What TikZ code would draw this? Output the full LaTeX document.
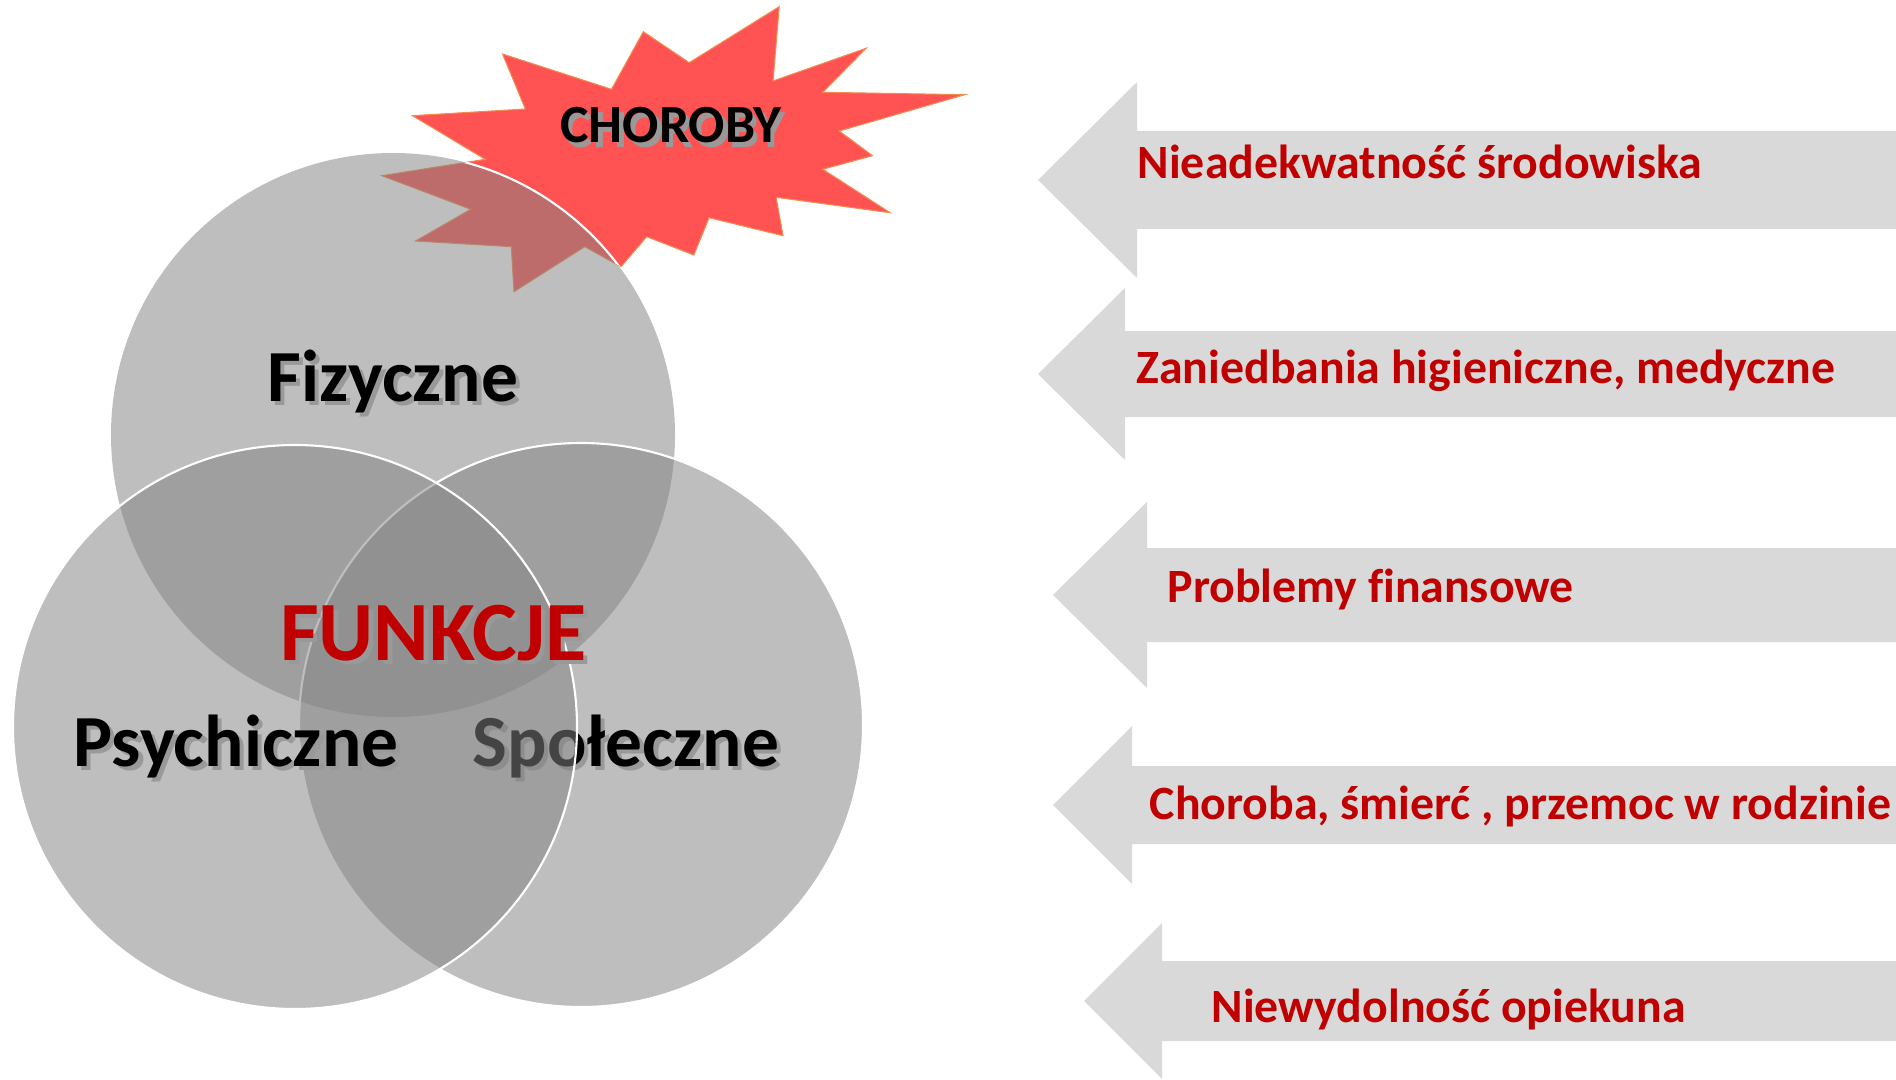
\documentclass[tikz,border=0pt]{standalone}
\usepackage{fontspec}
\setmainfont{Carlito}[Ligatures = NoCommon]

\definecolor{starred}{RGB}{255,82,82}
\definecolor{staredge}{RGB}{240,140,80}
\definecolor{venngray}{RGB}{131,131,131}
\definecolor{arrowgray}{RGB}{217,217,217}
\definecolor{causered}{RGB}{192,0,0}

\newcommand{\shadowed}[1]{\makebox[0pt][l]{\hspace{1.2pt}\raisebox{-1.2pt}{\textcolor{black!40}{#1}}}#1}

\begin{document}
\begin{tikzpicture}[x = 0.1mm, y = -0.1mm,
	venn/.style = {fill = venngray, fill opacity = 0.52},
	vennedge/.style = {draw = white, line width = 0.6pt},
	vennlabel/.style = {font = \fontsize{20.9}{24}\selectfont\bfseries, anchor = base, inner sep = 0},
	cause/.style = {font = \fontsize{13.6}{16}\selectfont\bfseries, text = causered, anchor = base west, inner sep = 0}]

	% Definitions
	
	\def\starpath{(412.5, 115.7) -- (485.2, 159.3) -- (381.9, 175.7) -- (470.7, 209.3) -- (415.6, 241) -- (511.3, 246.7) -- (514, 291.7) -- (584.7, 246.7) -- (621, 266.7) -- (646.7, 236.7) -- (693.8, 255) -- (709.1, 217.7) -- (783, 235.7) -- (776.1, 197.3) -- (890.1, 212.7) -- (822.8, 169.3) -- (872.5, 155.7) -- (839.2, 131) -- (964.8, 94.7) -- (822.8, 92.3) -- (866, 48.3) -- (773, 81) -- (779.2, 6.7) -- (689.2, 62.7) -- (643.3, 31.7) -- (611.5, 89.3) -- (502.5, 54) -- (525.4, 109) -- cycle}
	
	\useasboundingbox (0, 0) rectangle (1896, 1079);
	
	% Star
	
	\draw [fill = starred, draw = staredge, line width = 0.3pt] \starpath;
	
	% Top circle + white rim over the star
	
	\path [venn] (393, 435) circle (282);
	\begin{scope}
		\clip \starpath;
		\draw [vennedge] (393, 435) circle (282);
	\end{scope}
	\node [vennlabel] (fizyczne) at (393, 401) {\shadowed{Fizyczne}};
	
	% Right circle
	
	\path [venn, vennedge] (581, 725) circle (282);
	\node [vennlabel] (spoleczne) at (626, 766) {\shadowed{Społeczne}};
	
	% Left circle
	
	\path [venn, vennedge] (295, 727) circle (282);
	\node [vennlabel] (psychiczne) at (236, 766) {\shadowed{Psychiczne}};
	
	% Labels in the middle and on the star
	
	\node [vennlabel, font = \fontsize{24}{28}\selectfont\bfseries, text = causered] (funkcje) at (433.5, 660) {\shadowed{FUNKCJE}};
	\node [vennlabel, font = \fontsize{15.3}{18}\selectfont\bfseries] (choroby) at (671, 143) {\shadowed{CHOROBY}};
	
	% Arrows
	
	\foreach \tipx/\midy/\headx/\headh/\shafth in {1038/180/1137/98/49, 1038/374/1125/86/43, 1053/595/1147/93/47, 1053/805/1132/79/39, 1084/1001/1162/78/40}
		\fill [arrowgray] (\tipx, \midy) -- (\headx, \midy - \headh) -- (\headx, \midy - \shafth) -- (1896, \midy - \shafth) -- (1896, \midy + \shafth) -- (\headx, \midy + \shafth) -- (\headx, \midy + \headh) -- cycle;
	
	\node [cause] (cause1) at (1137, 179) {Nieadekwatność środowiska};
	\node [cause] (cause2) at (1136, 383) {Zaniedbania higieniczne, medyczne};
	\node [cause] (cause3) at (1167, 602) {Problemy finansowe};
	\node [cause] (cause4) at (1149, 819) {Choroba, śmierć , przemoc w rodzinie};
	\node [cause] (cause5) at (1211, 1022) {Niewydolność opiekuna};

\end{tikzpicture}
\end{document}
